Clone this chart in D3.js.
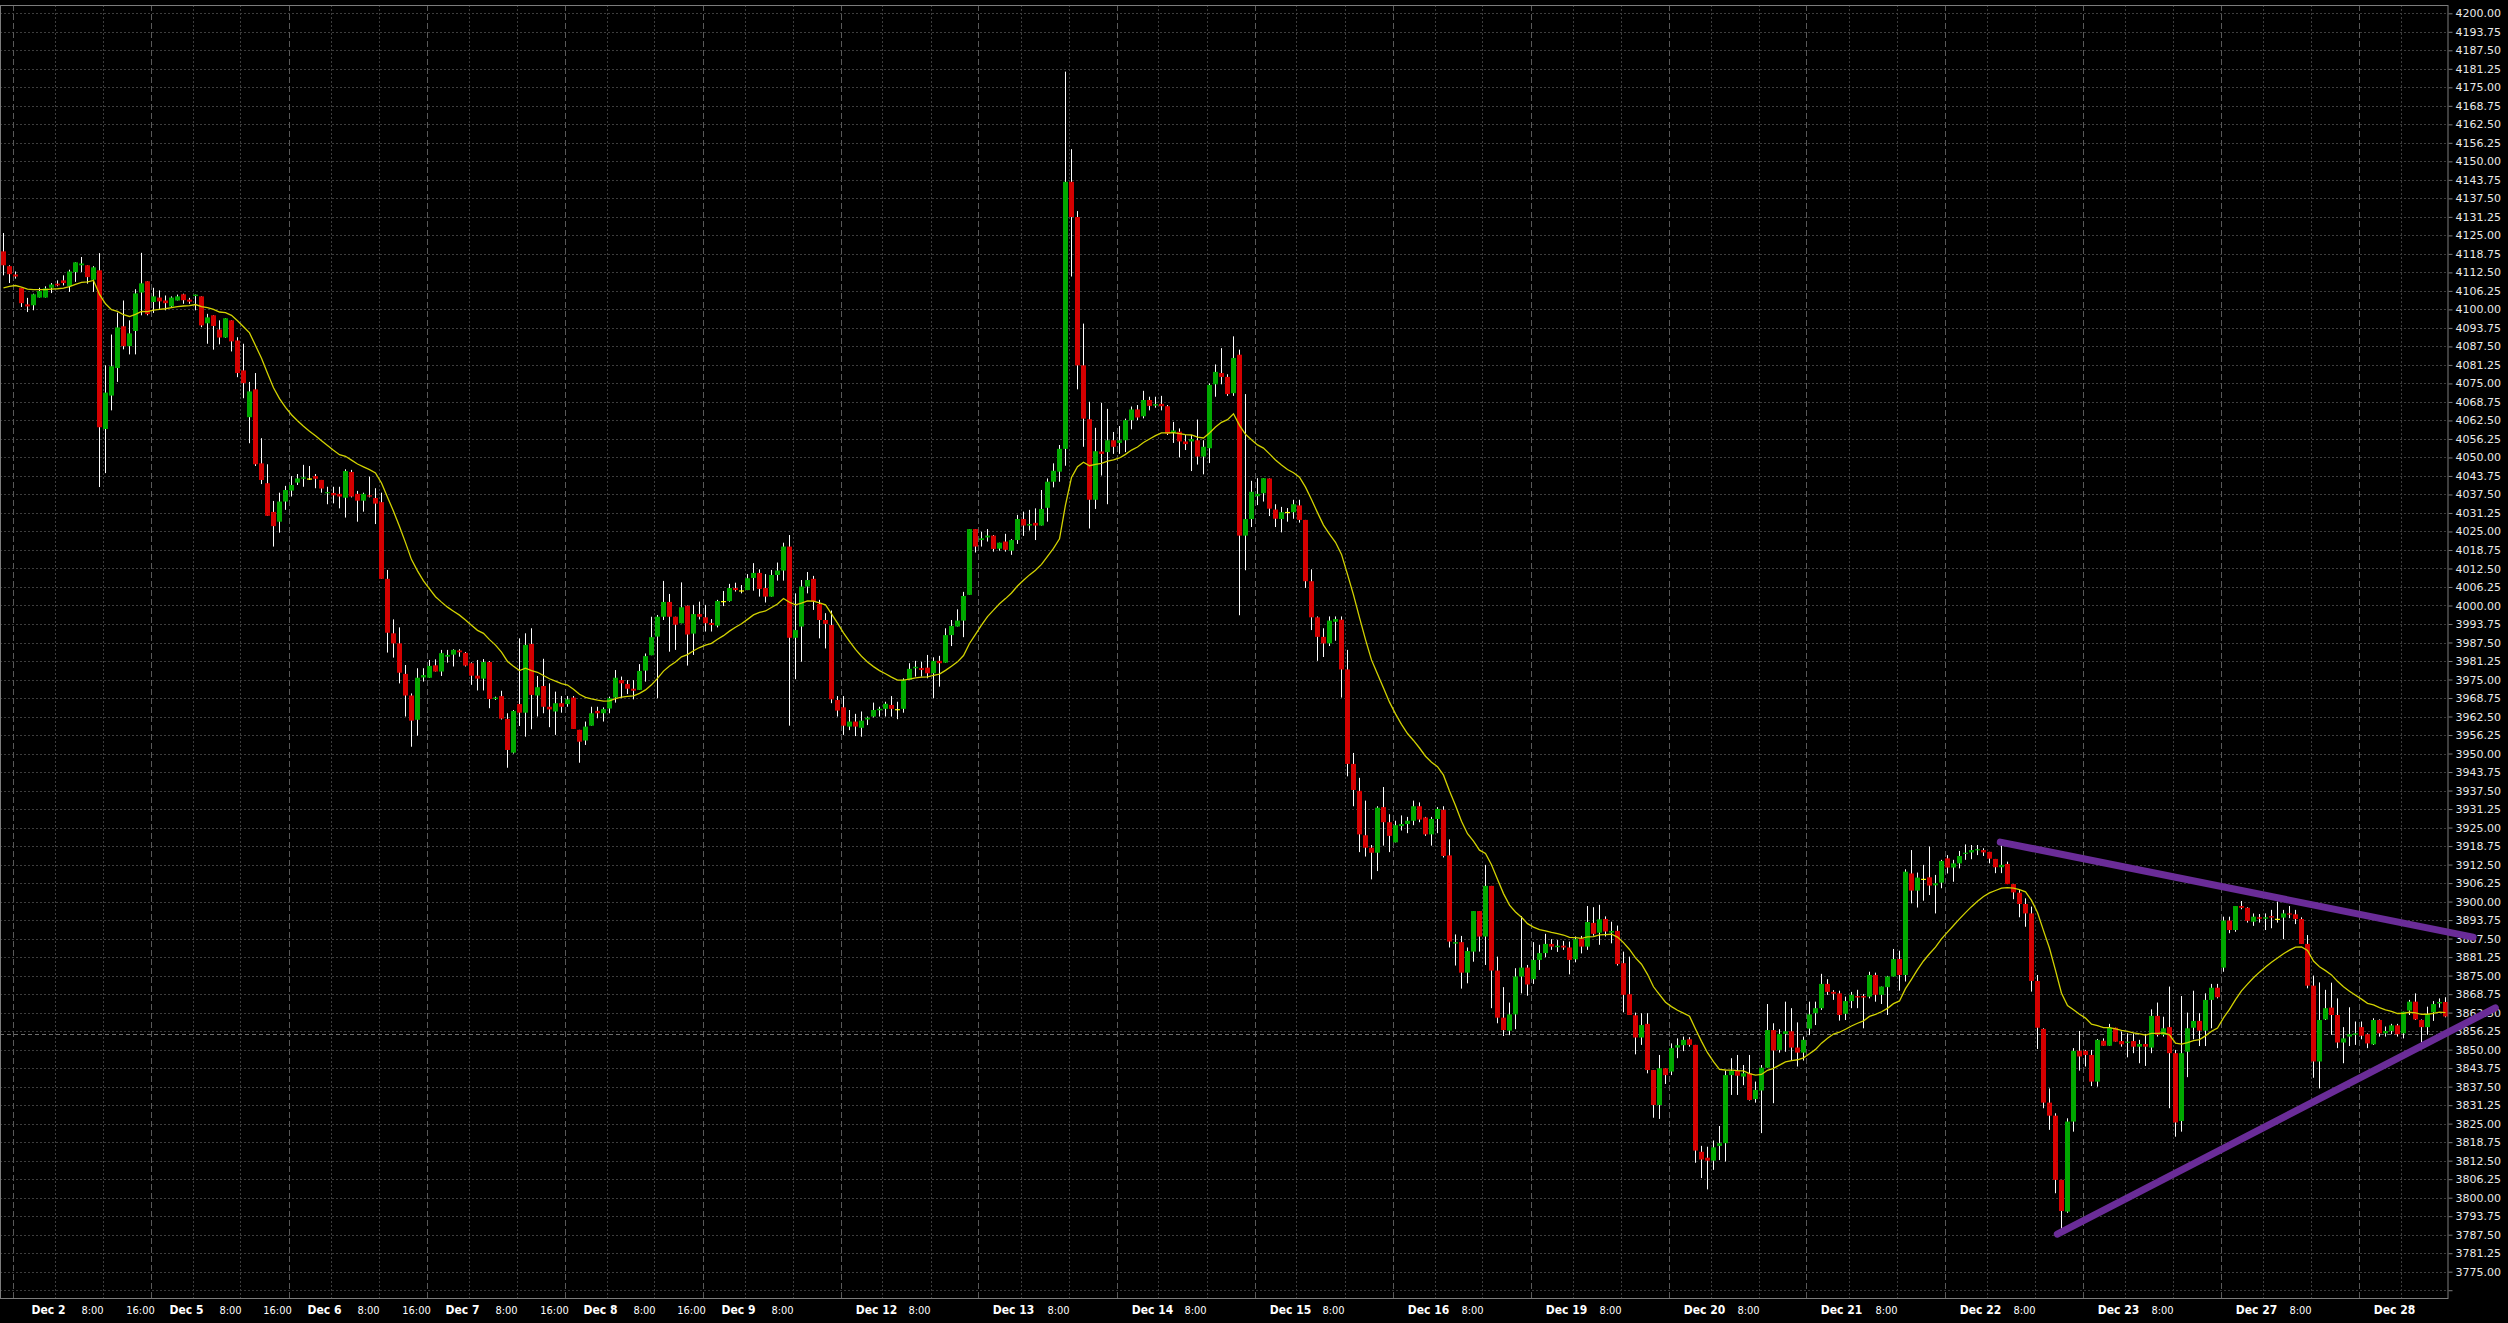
<!DOCTYPE html>
<html><head><meta charset="utf-8">
<script src="https://cdn.jsdelivr.net/npm/d3@7"></script>
<style>html,body{margin:0;padding:0;background:#000;overflow:hidden}</style>
</head><body>
<svg id="chart" width="2508" height="1323"></svg>
<script>
// ---- DATA: hourly bars [open, high, low, close], grouped by session day ----
const dec01 = [[4119.6,4125.8,4111.5,4114.9],[4114.6,4114.9,4108.9,4111.9]];
const dec02 = [[4111.8,4112.8,4110.4,4111.1],[4107.2,4107.2,4100.8,4102.1],[4101.7,4103.9,4099.1,4101.0],[4101.4,4105.3,4099.7,4105.1],[4104.0,4107.3,4104.0,4106.2],[4104.0,4107.8,4104.0,4107.1],[4107.3,4108.9,4105.5,4108.4],[4108.7,4109.8,4107.8,4108.1],[4109.8,4111.5,4108.1,4108.9],[4107.9,4113.4,4105.9,4112.8],[4112.6,4115.9,4109.3,4115.9],[4114.9,4117.7,4112.6,4115.5],[4114.9,4114.9,4108.7,4110.9],[4110.0,4114.6,4105.9,4114.2],[4113.2,4119.0,4040.0,4060.2],[4059.6,4081.1,4044.7,4071.9],[4070.9,4091.5,4065.9,4080.8],[4080.2,4098.9,4075.5,4093.9],[4094.3,4103.0,4086.5,4087.6],[4087.6,4096.3,4084.8,4091.9],[4092.7,4106.8,4084.8,4105.4],[4105.7,4119.1,4098.0,4108.8],[4109.5,4109.5,4098.0,4098.4]];
const dec05 = [[4102.5,4107.3,4098.8,4104.4],[4104.0,4106.4,4100.2,4102.7],[4103.0,4104.7,4099.7,4102.1],[4101.0,4104.4,4100.8,4104.0],[4103.0,4105.0,4103.0,4104.4],[4105.1,4105.3,4101.9,4103.1],[4103.3,4103.9,4101.9,4102.6],[4104.5,4105.0,4099.7,4105.0],[4104.4,4104.4,4094.0,4094.6],[4095.3,4098.5,4088.4,4097.3],[4098.0,4098.0,4086.4,4094.4],[4093.2,4096.3,4088.2,4090.5],[4090.5,4097.0,4090.4,4097.0],[4096.3,4096.3,4085.8,4089.2],[4089.5,4090.6,4077.1,4078.5],[4079.4,4088.4,4070.0,4075.1],[4063.6,4075.5,4054.8,4072.3],[4073.0,4078.5,4047.1,4047.7],[4048.0,4056.5,4041.0,4042.4],[4041.3,4047.7,4030.3,4030.3],[4031.6,4035.3,4019.9,4026.8],[4028.3,4038.1,4024.6,4035.1],[4035.1,4040.4,4032.3,4039.0]];
const dec06 = [[4038.8,4043.7,4036.8,4040.7],[4041.5,4044.4,4040.7,4042.9],[4042.8,4047.5,4040.1,4043.3],[4042.9,4047.1,4042.4,4042.9],[4043.7,4044.4,4039.6,4042.8],[4042.4,4042.4,4038.1,4039.5],[4037.9,4040.1,4034.2,4038.3],[4038.0,4040.1,4034.5,4037.2],[4037.7,4040.1,4032.8,4036.8],[4036.4,4046.0,4029.7,4045.4],[4045.1,4045.8,4036.5,4036.8],[4037.7,4038.7,4028.3,4035.4],[4035.4,4038.1,4031.7,4037.7],[4037.2,4043.5,4036.5,4036.8],[4036.3,4039.6,4027.5,4034.4],[4034.9,4038.1,4009.0,4009.0],[4009.0,4012.0,3984.1,3990.8],[3990.6,3995.3,3982.4,3987.2],[3987.2,3992.6,3973.7,3977.3],[3976.9,3979.9,3962.5,3969.6],[3969.6,3970.3,3952.3,3961.1],[3961.4,3978.8,3956.0,3975.6],[3975.7,3978.8,3974.3,3976.5]];
const dec07 = [[3975.6,3981.6,3975.6,3979.6],[3979.8,3981.8,3977.7,3977.7],[3977.7,3985.0,3976.2,3983.9],[3982.7,3985.0,3980.7,3983.3],[3983.4,3985.2,3979.4,3985.0],[3984.8,3985.2,3982.7,3984.2],[3984.0,3984.3,3979.4,3979.7],[3980.5,3980.8,3973.2,3976.3],[3976.3,3981.6,3971.3,3975.3],[3975.3,3981.9,3971.3,3980.9],[3980.9,3981.2,3965.3,3968.4],[3968.4,3969.2,3968.1,3968.9],[3969.4,3971.2,3961.5,3961.8],[3961.7,3963.6,3945.2,3951.2],[3950.3,3964.7,3950.0,3964.4],[3966.7,3988.9,3959.3,3963.8],[3963.8,3990.6,3955.7,3986.7],[3987.0,3992.3,3958.2,3969.8],[3969.6,3976.2,3962.5,3972.4],[3972.8,3982.0,3963.6,3965.8],[3965.8,3973.7,3958.9,3964.9],[3964.2,3970.9,3956.3,3967.0],[3967.0,3969.4,3963.8,3965.8]];
const dec08 = [[3966.7,3969.4,3965.8,3968.3],[3968.9,3969.4,3958.3,3958.3],[3958.0,3958.0,3946.9,3954.0],[3954.4,3960.8,3952.9,3959.1],[3959.4,3965.8,3959.4,3963.6],[3964.4,3965.8,3961.9,3963.6],[3963.6,3965.6,3960.8,3965.0],[3965.2,3969.2,3963.6,3968.7],[3968.9,3978.2,3967.2,3975.6],[3974.8,3976.0,3968.7,3973.7],[3973.5,3974.8,3970.1,3971.9],[3971.9,3974.8,3968.3,3971.2],[3971.5,3980.2,3971.5,3977.9],[3978.0,3983.8,3974.3,3982.9],[3983.2,3996.2,3983.2,3989.3],[3989.5,3996.8,3968.7,3996.2],[3996.2,4008.3,3995.1,4001.2],[4001.2,4003.9,3984.4,3996.2],[3996.2,3996.2,3985.0,3993.5],[3994.0,4007.8,3994.0,3999.4],[3999.9,4000.0,3979.7,3990.2],[3990.5,4000.2,3983.3,3997.1],[3997.1,4001.3,3995.3,3996.2]];
const dec09 = [[3996.0,4000.2,3991.2,3994.0],[3994.1,3995.4,3991.2,3993.4],[3993.2,4001.9,3992.6,4001.5],[4001.5,4004.9,3999.8,4001.5],[4001.5,4007.3,4001.3,4005.9],[4005.9,4007.7,4004.7,4005.2],[4005.1,4006.9,4004.1,4005.1],[4005.2,4010.6,4005.2,4009.2],[4009.3,4014.3,4005.0,4011.0],[4011.0,4012.2,4003.0,4005.6],[4005.9,4010.6,4001.0,4003.0],[4003.0,4012.0,4003.0,4010.3],[4010.3,4014.5,4008.4,4011.8],[4011.8,4021.2,4008.4,4019.9],[4019.9,4023.8,3959.4,3989.1],[3989.1,4004.1,3975.1,3991.7],[3992.9,4008.6,3981.0,4006.4],[4006.4,4011.3,4004.1,4008.6],[4009.0,4010.0,3998.5,4001.3],[4000.5,4001.9,3988.9,3995.1],[3995.1,3997.4,3985.5,3993.8],[3993.4,3998.3,3967.0,3968.3],[3968.1,3969.4,3962.5,3964.5]];
const dec12 = [[3965.6,3969.4,3956.3,3959.4],[3959.1,3964.7,3957.9,3960.8],[3960.8,3963.4,3955.9,3959.1],[3958.7,3964.2,3955.7,3961.1],[3961.5,3962.5,3959.6,3962.1],[3962.5,3967.2,3962.2,3964.7],[3964.6,3965.8,3962.5,3965.1],[3965.1,3967.5,3962.5,3966.8],[3966.4,3969.4,3962.5,3965.1],[3965.0,3967.5,3961.6,3965.0],[3965.1,3975.4,3963.8,3974.9],[3974.9,3980.5,3974.9,3978.6],[3978.8,3981.3,3976.0,3979.3],[3978.9,3981.0,3976.0,3978.2],[3979.0,3983.3,3975.4,3977.1],[3977.1,3982.5,3968.7,3981.3],[3981.3,3983.0,3972.6,3980.5],[3980.7,3992.3,3980.7,3990.0],[3990.0,3995.1,3986.3,3993.1],[3992.9,3998.7,3992.9,3994.9],[3994.9,4004.6,3989.3,4003.2],[4003.6,4025.8,4003.6,4025.8],[4025.8,4025.8,4017.9,4019.9]];
const dec13 = [[4022.1,4024.9,4019.9,4022.7],[4023.0,4025.8,4021.6,4023.6],[4023.6,4023.8,4018.2,4019.1],[4019.2,4021.2,4018.5,4021.2],[4021.6,4024.2,4018.2,4018.8],[4018.5,4022.4,4017.1,4022.1],[4022.1,4030.6,4020.8,4029.2],[4029.2,4031.7,4023.5,4027.0],[4027.0,4032.3,4025.3,4027.5],[4027.9,4032.8,4022.1,4027.0],[4027.0,4039.0,4027.0,4032.6],[4033.0,4042.9,4028.3,4041.8],[4041.8,4048.0,4039.9,4045.5],[4045.2,4054.2,4041.8,4052.9],[4052.9,4180.3,4047.2,4143.1],[4143.1,4154.1,4111.1,4131.2],[4131.2,4133.2,4073.0,4081.1],[4081.1,4095.2,4053.6,4063.1],[4062.9,4068.8,4026.0,4035.7],[4035.7,4060.0,4032.6,4052.1],[4052.0,4068.4,4043.9,4051.2],[4051.8,4066.4,4034.2,4055.8],[4055.8,4058.6,4051.2,4053.6]];
const dec14 = [[4054.9,4060.6,4051.2,4055.8],[4055.8,4063.1,4051.8,4062.6],[4062.6,4067.2,4059.5,4066.2],[4066.2,4067.7,4062.6,4063.5],[4063.9,4072.5,4063.2,4069.4],[4069.4,4070.5,4065.9,4067.4],[4067.5,4070.5,4066.8,4068.0],[4068.1,4070.8,4065.9,4067.3],[4067.3,4067.7,4057.6,4058.0],[4058.4,4062.0,4054.9,4059.1],[4058.7,4059.8,4050.0,4055.4],[4055.4,4057.6,4052.5,4054.5],[4055.4,4057.6,4045.4,4056.2],[4055.8,4062.8,4047.6,4050.3],[4050.3,4055.8,4044.3,4053.6],[4053.1,4075.0,4048.1,4074.5],[4074.7,4081.4,4070.5,4078.9],[4078.5,4086.9,4074.7,4077.2],[4077.2,4078.1,4070.8,4071.4],[4071.7,4090.9,4070.8,4083.6],[4084.7,4086.4,3996.7,4023.6],[4023.6,4071.4,4011.9,4029.2],[4029.2,4042.1,4026.5,4038.4]];
const dec15 = [[4036.9,4043.0,4033.9,4037.7],[4037.9,4043.0,4035.1,4043.0],[4042.9,4042.9,4030.2,4032.7],[4032.4,4034.2,4026.5,4029.3],[4029.2,4033.3,4024.7,4031.5],[4031.6,4032.9,4028.3,4031.6],[4031.5,4035.7,4029.3,4034.2],[4033.8,4035.7,4028.0,4028.9],[4028.9,4028.9,4005.9,4008.2],[4008.2,4012.2,3991.7,3996.0],[3996.0,3996.3,3981.3,3989.4],[3989.4,3992.3,3982.6,3987.2],[3987.2,3996.3,3986.3,3994.9],[3994.5,3996.3,3988.1,3995.4],[3995.2,3996.3,3968.9,3978.4],[3978.4,3985.0,3942.3,3946.5],[3946.5,3950.2,3932.2,3937.7],[3937.4,3941.8,3916.7,3922.7],[3922.4,3934.1,3915.2,3918.2],[3918.2,3919.1,3907.5,3916.5],[3916.5,3932.2,3910.3,3931.7],[3931.9,3938.7,3918.9,3926.8],[3926.8,3929.5,3916.7,3922.2]];
const dec16 = [[3920.0,3927.3,3920.0,3925.8],[3925.5,3929.1,3924.0,3926.2],[3926.2,3928.6,3923.1,3927.3],[3927.3,3934.1,3925.8,3932.2],[3932.2,3933.5,3926.8,3927.7],[3928.4,3928.6,3922.2,3922.7],[3922.7,3928.6,3918.9,3927.9],[3927.9,3931.9,3923.1,3931.3],[3931.0,3932.2,3914.9,3915.4],[3915.6,3921.0,3884.5,3886.5],[3885.8,3888.9,3878.4,3886.3],[3886.3,3888.4,3870.6,3876.0],[3876.0,3884.5,3872.4,3883.3],[3883.1,3896.8,3879.7,3896.8],[3896.8,3896.8,3883.1,3888.2],[3888.2,3912.4,3878.6,3905.3],[3905.3,3905.3,3864.0,3876.7],[3876.7,3881.4,3858.9,3860.8],[3860.8,3871.1,3854.6,3856.6],[3856.4,3865.9,3854.9,3861.9],[3861.9,3877.5,3856.9,3874.7],[3874.7,3895.1,3869.0,3877.7],[3877.7,3878.6,3868.2,3872.0]];
const dec19 = [[3873.8,3886.3,3872.2,3880.3],[3880.3,3885.4,3876.9,3882.6],[3882.6,3889.1,3881.2,3885.7],[3885.7,3887.3,3883.7,3884.8],[3884.6,3887.0,3883.0,3885.1],[3885.1,3886.7,3883.7,3884.5],[3884.5,3886.5,3875.4,3880.3],[3880.5,3888.2,3879.5,3887.3],[3887.5,3888.4,3882.5,3884.8],[3884.8,3898.5,3883.7,3893.1],[3892.8,3898.1,3888.5,3889.1],[3889.5,3898.9,3885.4,3894.0],[3894.1,3895.0,3888.2,3889.9],[3889.5,3893.2,3885.9,3890.1],[3890.1,3891.9,3878.4,3878.9],[3879.2,3883.1,3862.6,3868.5],[3868.7,3881.4,3861.7,3861.7],[3861.6,3862.5,3848.4,3854.1],[3854.1,3862.3,3851.6,3858.3],[3858.7,3862.3,3842.0,3843.1],[3843.1,3843.1,3827.0,3831.3],[3831.3,3848.2,3826.6,3843.7],[3843.7,3843.7,3838.4,3841.4]];
const dec20 = [[3842.6,3852.1,3841.4,3850.5],[3850.7,3853.8,3847.1,3851.5],[3851.5,3854.4,3849.5,3853.3],[3853.5,3854.2,3851.0,3851.6],[3851.6,3851.6,3811.8,3815.9],[3815.5,3817.5,3806.6,3812.9],[3813.5,3817.2,3802.8,3812.5],[3812.5,3819.3,3809.4,3817.0],[3817.5,3824.2,3812.7,3818.4],[3818.4,3842.9,3812.2,3841.4],[3841.4,3847.1,3834.7,3842.8],[3842.9,3848.2,3834.7,3841.2],[3840.9,3844.8,3838.0,3842.0],[3842.0,3848.2,3832.8,3833.0],[3833.3,3839.2,3832.1,3836.4],[3836.2,3844.8,3821.8,3843.9],[3843.9,3865.4,3843.9,3856.6],[3856.6,3858.9,3831.9,3849.7],[3849.9,3856.9,3849.0,3855.3],[3855.3,3866.2,3849.3,3856.2],[3856.2,3864.0,3846.5,3850.7],[3850.7,3859.2,3844.3,3849.0],[3849.0,3854.4,3846.3,3853.3]];
const dec21 = [[3857.1,3866.2,3854.9,3861.9],[3862.3,3866.2,3858.3,3864.0],[3864.0,3875.6,3863.4,3872.2],[3872.2,3873.8,3868.5,3869.5],[3869.5,3870.1,3866.8,3868.9],[3869.0,3869.9,3859.8,3861.7],[3862.1,3867.9,3860.0,3866.4],[3866.4,3869.5,3864.0,3868.5],[3868.1,3870.2,3864.0,3867.6],[3868.1,3868.8,3857.2,3867.6],[3867.9,3876.3,3867.3,3875.2],[3875.2,3876.0,3866.2,3868.5],[3868.5,3871.3,3865.4,3871.3],[3871.1,3874.9,3861.7,3874.7],[3874.7,3884.0,3874.7,3880.6],[3880.6,3883.4,3869.9,3875.2],[3875.2,3910.9,3873.0,3910.1],[3909.5,3917.4,3899.4,3903.7],[3903.7,3909.8,3898.0,3908.1],[3907.7,3912.4,3900.3,3907.7],[3908.2,3918.6,3902.2,3905.4],[3905.5,3909.0,3896.0,3906.2],[3906.4,3914.1,3904.5,3913.7]];
const dec22 = [[3914.6,3915.7,3909.5,3911.5],[3911.5,3914.1,3906.7,3912.9],[3912.9,3917.1,3911.2,3915.4],[3916.1,3919.3,3914.1,3916.5],[3916.6,3919.1,3914.3,3917.4],[3917.3,3919.1,3915.7,3917.7],[3917.4,3918.0,3915.4,3916.6],[3916.8,3916.8,3912.9,3914.5],[3914.4,3914.4,3909.6,3911.6],[3911.6,3919.5,3909.6,3912.4],[3912.7,3913.5,3905.9,3905.9],[3905.9,3905.9,3900.8,3903.1],[3903.0,3903.9,3894.7,3899.2],[3899.2,3901.1,3891.5,3896.0],[3896.0,3898.3,3869.6,3873.2],[3873.2,3875.2,3850.2,3857.4],[3857.0,3857.2,3830.2,3832.1],[3832.1,3836.9,3822.9,3827.7],[3827.7,3828.5,3801.5,3806.0],[3806.0,3806.0,3789.3,3795.5],[3795.3,3826.8,3794.9,3825.7],[3825.7,3850.5,3822.3,3849.6],[3849.6,3856.3,3842.9,3847.7]];
const dec23 = [[3849.6,3849.9,3844.3,3848.2],[3848.2,3849.9,3837.7,3839.2],[3839.2,3853.6,3837.5,3853.3],[3853.0,3853.8,3851.3,3851.3],[3851.3,3858.7,3851.3,3857.4],[3857.4,3857.4,3852.7,3852.7],[3852.9,3856.1,3851.0,3851.8],[3852.4,3855.5,3847.4,3852.7],[3852.9,3855.5,3848.8,3851.0],[3851.0,3853.3,3845.4,3851.9],[3851.9,3855.3,3844.5,3851.0],[3850.7,3863.6,3848.8,3861.4],[3861.4,3865.9,3854.4,3855.0],[3855.0,3861.1,3854.4,3857.2],[3857.6,3871.3,3830.2,3848.8],[3848.8,3849.9,3820.6,3825.4],[3825.9,3868.1,3822.3,3848.8],[3849.3,3862.5,3840.7,3857.2],[3857.4,3869.9,3853.5,3859.7],[3859.7,3862.3,3851.2,3856.4],[3856.4,3869.0,3851.2,3866.8],[3866.8,3872.2,3857.2,3870.9],[3870.9,3872.2,3867.3,3867.7]];
const dec27 = [[3877.7,3894.9,3876.3,3893.6],[3893.6,3894.9,3889.3,3890.4],[3890.4,3898.5,3889.8,3898.5],[3898.5,3900.2,3897.4,3897.9],[3897.9,3898.1,3892.9,3893.5],[3893.2,3896.0,3891.8,3894.9],[3894.7,3895.8,3892.9,3894.2],[3894.2,3896.0,3890.4,3894.7],[3895.1,3897.2,3891.0,3894.6],[3894.2,3900.0,3892.9,3894.2],[3894.6,3897.2,3887.3,3896.0],[3896.0,3898.5,3894.4,3895.6],[3895.7,3897.2,3892.4,3894.1],[3894.1,3894.7,3885.7,3885.7],[3885.7,3888.7,3870.7,3871.6],[3871.6,3875.0,3840.5,3846.0],[3846.0,3872.7,3836.9,3860.0],[3860.2,3870.2,3860.0,3864.0],[3864.2,3872.6,3855.0,3861.7],[3861.7,3867.3,3850.5,3852.4],[3852.4,3857.6,3845.4,3853.8],[3854.4,3864.3,3851.2,3855.2],[3855.0,3859.5,3851.6,3855.5]];
const dec28 = [[3857.6,3859.5,3853.5,3854.7],[3855.2,3855.5,3850.5,3852.1],[3851.8,3860.6,3851.6,3860.0],[3860.0,3860.2,3854.4,3855.5],[3855.5,3857.8,3854.4,3856.3],[3856.3,3858.7,3855.2,3858.2],[3858.2,3858.7,3854.4,3855.2],[3855.5,3862.8,3853.8,3862.8],[3863.2,3866.8,3861.7,3866.2],[3866.2,3869.0,3860.0,3860.2],[3860.0,3860.2,3852.4,3857.6],[3857.6,3864.5,3855.0,3862.0],[3862.6,3866.4,3859.7,3865.4],[3865.6,3867.3,3864.2,3866.1],[3866.1,3867.7,3860.9,3861.2]];

const sessions = [dec02,dec05,dec06,dec07,dec08,dec09,dec12,dec13,dec14,dec15,dec16,dec19,dec20,dec21,dec22,dec23,dec27,dec28];
const dayLabels = ["Dec 2","Dec 5","Dec 6","Dec 7","Dec 8","Dec 9","Dec 12","Dec 13","Dec 14","Dec 15","Dec 16","Dec 19","Dec 20","Dec 21","Dec 22","Dec 23","Dec 27","Dec 28"];
const hourLabelsFull = ["8:00","16:00"];   // shown on the first five sessions
const hourLabelsShort = ["8:00"];          // shown on later sessions
const priceTickMin = 3768.75, priceTickMax = 4200, priceTickStep = 6.25;
const maPeriod = 20, maStartValue = 4107.3;  // EMA(20) of close, first visible value
const refPrice = 3855.25;                    // dashed price line
const trendUpper = [[332.8,3920.1],[411.6,3888.0]];  // [bar index, price]
const trendLower = [[342.3,3787.7],[415.3,3864.1]];

// ---- BUILD ----
const pre = dec01.length, perDay = 23;
const bars = [...dec01, ...sessions.flat()].map((d,i)=>({i, o:d[0], h:d[1], l:d[2], c:d[3]}));
const N = bars.length;

const W = 2508, H = 1323;
const plotL = 0, plotR = 2448, plotT = 5, plotB = 1298;

const svg = d3.select("#chart");
svg.append("rect").attr("width",W).attr("height",H).attr("fill","#000");

const x = d3.scaleLinear().domain([0, N-1]).range([3.5, 3.5 + 6*(N-1)]);
const y = d3.scaleLinear().domain([3775, 4200]).range([1271.7, 13.3]);

const ticks = d3.range(priceTickMin, priceTickMax + 0.001, priceTickStep);

// horizontal grid
svg.append("g").selectAll("line").data(ticks).join("line")
  .attr("x1", plotL).attr("x2", plotR)
  .attr("y1", d=>Math.round(y(d))+0.5).attr("y2", d=>Math.round(y(d))+0.5)
  .attr("stroke","#3d3d3d").attr("stroke-dasharray","2,2").attr("stroke-width",1);

// vertical grid + time labels
const vlines = [], tlabels = [];
sessions.forEach((s,k)=>{
  const start = pre + perDay*k;
  vlines.push({i:start, day:true});
  tlabels.push({i:start, t:dayLabels[k], bold:true});
  const hrs = k < 5 ? hourLabelsFull : hourLabelsShort;
  [[7,"8:00"],[15,"16:00"]].forEach(([off,lab])=>{
    if (start+off < N) {
      vlines.push({i:start+off, day:false});
      if (hrs.includes(lab) && k < sessions.length-1) tlabels.push({i:start+off, t:lab, bold:false});
    }
  });
});
const gx = i => Math.round(x(i) - 3) + 0.5;
svg.append("g").selectAll("line").data(vlines).join("line")
  .attr("x1", d=>gx(d.i)).attr("x2", d=>gx(d.i))
  .attr("y1", plotT).attr("y2", plotB)
  .attr("stroke", d=>d.day ? "#595959" : "#3d3d3d")
  .attr("stroke-dasharray", d=>d.day ? "6,3" : "2,2");

// reference price line
svg.append("line").attr("x1",plotL).attr("x2",plotR)
  .attr("y1",Math.round(y(refPrice))+0.5).attr("y2",Math.round(y(refPrice))+0.5)
  .attr("stroke","#6e6e6e").attr("stroke-dasharray","4,3");

// candles
const cg = svg.append("g");
cg.selectAll("line.wick").data(bars).join("line").attr("class","wick")
  .attr("x1", d=>Math.round(x(d.i)-0.5)+0.5).attr("x2", d=>Math.round(x(d.i)-0.5)+0.5)
  .attr("y1", d=>y(d.h)).attr("y2", d=>y(d.l))
  .attr("stroke","#ffffff").attr("stroke-width",1);
cg.selectAll("rect.body").data(bars).join("rect").attr("class","body")
  .attr("x", d=>Math.round(x(d.i)-2.5))
  .attr("width", 5)
  .attr("y", d=>y(Math.max(d.o,d.c)))
  .attr("height", d=>Math.max(1.2, Math.abs(y(d.o)-y(d.c))))
  .attr("fill", d=> d.c > d.o ? "#00a800" : (d.c < d.o ? "#d40000" : "#ffff00"));

// moving average (EMA of closes)
const alpha = 2/(maPeriod+1);
let ema = maStartValue;
const maPts = bars.map((d,i)=>{ if(i>0) ema = ema + alpha*(d.c-ema); return {i, v:ema}; });
svg.append("path").datum(maPts)
  .attr("d", d3.line().x(d=>x(d.i)).y(d=>y(d.v)))
  .attr("fill","none").attr("stroke","#d2d200").attr("stroke-width",1.3);

// frame
svg.append("rect").attr("x",0.5).attr("y",plotT+0.5).attr("width",plotR-0.5).attr("height",plotB-plotT)
  .attr("fill","none").attr("stroke","#7c7c7c");

// right price axis
const axis = d3.axisRight(y).tickValues(ticks).tickSize(4).tickPadding(3)
  .tickFormat(d => d < 3775 ? "" : d3.format(".2f")(d));
const ag = svg.append("g").attr("transform",`translate(${plotR+0.5},0)`).call(axis);
ag.select(".domain").remove();
ag.selectAll(".tick line").attr("stroke","#7c7c7c");
ag.selectAll(".tick text").attr("fill","#e8e8e8")
  .style("font-family","'DejaVu Sans',Verdana,sans-serif").style("font-size","11px");

// bottom time labels
svg.append("g").selectAll("text").data(tlabels).join("text")
  .attr("x", d=>gx(d.i) + (d.bold ? 35 : 37))
  .attr("y", 1314)
  .attr("text-anchor","middle")
  .attr("fill","#ffffff")
  .style("font-family","'DejaVu Sans Condensed','DejaVu Sans',sans-serif")
  .style("font-weight", d=>d.bold ? "bold" : "normal")
  .style("font-size", d=>d.bold ? "12px" : "11px")
  .text(d=>d.t);

// trend lines (drawn over everything)
const tl = d3.line().x(d=>x(d[0])).y(d=>y(d[1]));
[trendUpper, trendLower].forEach(t=>{
  svg.append("path").attr("d", tl(t)).attr("fill","none")
    .attr("stroke","#6a2c98").attr("stroke-width",7).attr("stroke-linecap","round");
});
</script>
</body></html>
